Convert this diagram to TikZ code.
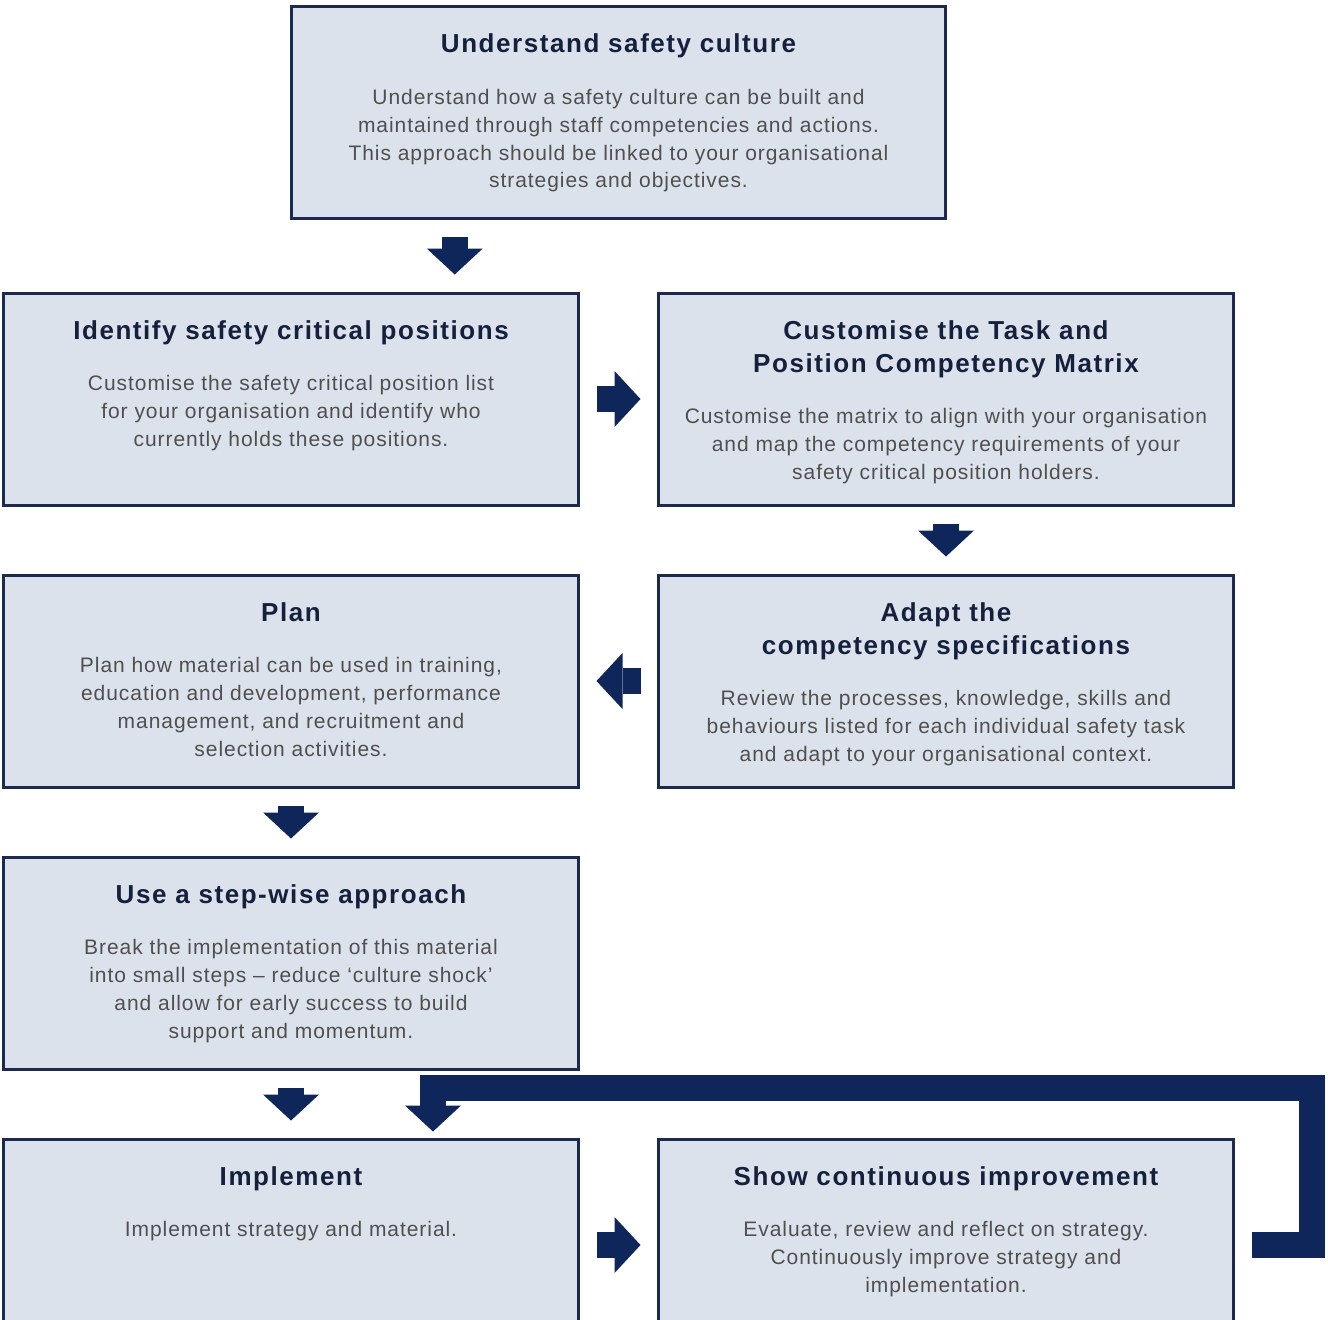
\documentclass[tikz,border=0pt]{standalone}
\usepackage{fontspec}
\setmainfont{Liberation Sans}
\newfontfamily\headfam[LetterSpace=6]{Liberation Sans}
\newfontfamily\bodyfam[LetterSpace=4.5]{Liberation Sans}
\usetikzlibrary{matrix,positioning,calc,arrows.meta}
\definecolor{boxfill}{HTML}{DCE2EB}
\definecolor{boxline}{HTML}{1D2A4F}
\definecolor{arrownavy}{HTML}{0E2659}
\definecolor{headnavy}{HTML}{15203D}
\definecolor{bodygrey}{HTML}{4F4F4F}
\newcommand{\steptext}[3][287pt]{\parbox[c][106pt][t]{#1}{\centering\parskip=0pt
		\vspace*{13pt}{\headfam\bfseries\fontsize{13}{16.5}\selectfont\leavevmode\color{headnavy}\rule{0pt}{10pt}#2\par}
		\vspace{12pt}{\bodyfam\fontsize{10.5}{13.9}\selectfont\leavevmode\color{bodygrey}#3\par}}}
\tikzset{
	stepbox/.style={draw=boxline, line width=1.5pt, fill=boxfill, inner sep=0pt, minimum width=287pt, minimum height=106pt},
	blockarrow/.style={color=arrownavy, line width=13pt, line join=miter, shorten <=8.5pt, shorten >=8.5pt, -{Triangle[width=28pt,length=13pt,line width=0pt,color=arrownavy]}}
}

\begin{document}
\begin{tikzpicture}[x=0.5pt, y=-0.5pt]
		\useasboundingbox (0,0) rectangle (1328,1319);
		\clip (0,0) rectangle (1328,1319);
		\matrix (flow) at (618.5,822) [matrix of nodes, row sep=33.5pt, column sep=39pt, inner sep=0pt, nodes={stepbox}]
		{ \steptext{Identify safety critical positions}{Customise the safety critical position list\\ for your organisation and identify who\\ currently holds these positions.} &
			\steptext{Customise the Task and\\ Position Competency Matrix}{Customise the matrix to align with your organisation\\ and map the competency requirements of your\\ safety critical position holders.} \\
			\steptext{Plan}{Plan how material can be used in training,\\ education and development, performance\\ management, and recruitment and\\ selection activities.} &
			\steptext{Adapt the\\ competency specifications}{Review the processes, knowledge, skills and\\ behaviours listed for each individual safety task\\ and adapt to your organisational context.} \\
			\steptext{Use a step-wise approach}{Break the implementation of this material\\ into small steps – reduce ‘culture shock’\\ and allow for early success to build\\ support and momentum.} & \\
			\steptext{Implement}{Implement strategy and material.} &
			\steptext{Show continuous improvement}{Evaluate, review and reflect on strategy.\\ Continuously improve strategy and\\ implementation.} \\ };
		\node[stepbox, minimum width=327pt] (top) [above=35.5pt of flow.north]
		{\steptext[327pt]{Understand safety culture}{Understand how a safety culture can be built and\\ maintained through staff competencies and actions.\\ This approach should be linked to your organisational\\ strategies and objectives.}};
		
		\coordinate (topmid) at ($(top.south)!0.5!(flow-1-1.north)$);
		\coordinate (loopR) at (1312,1088);
		\coordinate (loopL) at (433,1088);
		
		\path[blockarrow]
		(top.south -| topmid) edge (flow-1-1.north -| topmid)
		(flow-1-1) edge (flow-1-2)
		(flow-1-2) edge (flow-2-2)
		(flow-2-2) edge (flow-2-1)
		(flow-2-1) edge (flow-3-1)
		(flow-3-1) edge (flow-4-1)
		(flow-4-1) edge (flow-4-2);
		% loop back to implement
		\draw[blockarrow, shorten >=3pt] (flow-4-2.east) -| (loopR) -- (loopL) -- (loopL |- flow-4-1.north);
		
\end{tikzpicture}
\end{document}
